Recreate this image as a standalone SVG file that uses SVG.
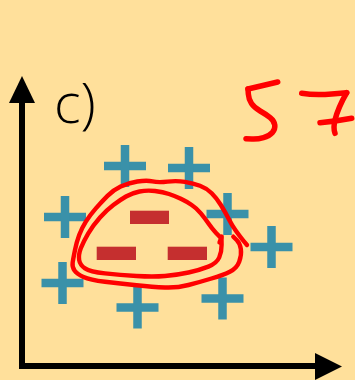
<svg xmlns="http://www.w3.org/2000/svg" xmlns:xlink="http://www.w3.org/1999/xlink" width="355" height="380" viewBox="0 0 355 380">
<style>
.bg{fill:#FFE09B}
.axis{stroke:#000;stroke-width:6;fill:none}
.head{fill:#000}
.plus{fill:#3A91A9}
.minus{fill:#C52F2F}
.loop{fill:none;stroke:#FF0000;stroke-width:4.4;stroke-linecap:round;stroke-linejoin:round}
.digit{fill:none;stroke:#FF0000;stroke-width:5.5;stroke-linecap:round;stroke-linejoin:round}
.lbl{font-family:"Open Sans","DejaVu Sans",sans-serif;font-weight:350;font-size:56px;fill:#000}
</style>
<defs>
<g id="plus"><rect x="-21" y="-4.25" width="42" height="8.5"/><rect x="-4.25" y="-21" width="8.5" height="42"/></g>
</defs>
<rect class="bg" x="0" y="0" width="355" height="380"/>
<g id="axes">
<path class="axis" d="M22,100 V366 H318"/>
<polygon class="head" points="22,76 9,103 35,103"/>
<polygon class="head" points="342,366.5 315,353 315,380"/>
</g>
<g id="label"><text class="lbl" x="54" y="123">c)</text></g>
<g id="pluses" class="plus">
<use xlink:href="#plus" x="125" y="166"/>
<use xlink:href="#plus" x="189" y="168"/>
<use xlink:href="#plus" x="65" y="217"/>
<use xlink:href="#plus" x="227.5" y="214"/>
<use xlink:href="#plus" x="271.5" y="247"/>
<use xlink:href="#plus" x="62.5" y="283"/>
<use xlink:href="#plus" x="137.5" y="307.5"/>
<use xlink:href="#plus" x="222.5" y="298.5"/>
</g>
<g id="minuses" class="minus">
<rect x="130" y="210.7" width="39" height="13.3"/>
<rect x="96.7" y="246.7" width="39.3" height="13.3"/>
<rect x="167.7" y="246.7" width="39.3" height="13.3"/>
</g>
<g id="loops">
<path class="loop" d="M247,245 L243.5,240.85 Q240,236.7 235.85,230.85 Q231.7,225 228.35,218.35 Q225,211.7 220.85,205 Q216.7,198.3 211.7,193.3 Q206.7,188.3 200,185.8 Q193.3,183.3 185,181.9 Q176.7,180.5 167.5,181.6 Q158.3,182.7 152.5,181.35 Q146.7,180 137.35,181.5 Q128,183 120.65,186.5 Q113.3,190 107.5,195.85 Q101.7,201.7 95.85,208.35 Q90,215 85.85,221.65 Q81.7,228.3 79.2,235 Q76.7,241.7 75,250 Q73.3,258.3 72.65,262.65 Q72,267 74.5,270.5 Q77,274 83.5,277 Q90,280 105,281.75 Q120,283.5 136.5,285.25 Q153,287 165,287.5 Q177,288 188.5,285 Q200,282 211.5,278.5 Q223,275 229.85,271.65 Q236.7,268.3 239.2,261.65 Q241.7,255 240.85,249.15 Q240,243.3 236.65,240 L233.3,236.7"/>
<path class="loop" d="M220,237 L215.85,232.65 Q211.7,228.3 208.35,223.3 Q205,218.3 200.85,213.3 Q196.7,208.3 191.7,205 Q186.7,201.7 180.85,198.85 Q175,196 169,194 Q163,192 155,191 Q147,190 139.5,191.5 Q132,193 126,196.5 Q120,200 113.35,205 Q106.7,210 100,217.5 Q93.3,225 88.3,233.35 Q83.3,241.7 80.8,248.35 Q78.3,255 79.15,260 Q80,265 85,268.35 Q90,271.7 105,273.35 Q120,275 136.5,276 Q153,277 165,276 Q177,275 188.5,272.5 Q200,270 208.35,266.65 Q216.7,263.3 219.2,257.5 Q221.7,251.7 221.6,244.85 L221.5,238"/>
<path class="loop" d="M221.7,236.5 L219.5,242.5"/>
</g>
<g id="number">
<path class="digit" d="M277.7,82 L248,89"/>
<path class="digit" d="M248,89 L248.35,94.15 Q248.7,99.3 251.5,103.5 Q254.3,107.7 260.15,111 Q266,114.3 270.15,117.65 Q274.3,121 274.8,125.15 Q275.3,129.3 272.3,132.65 Q269.3,136 263.5,137.65 Q257.7,139.3 251.85,139 L246,138.7"/>
<path class="digit" d="M301.7,93.3 Q315,95.5 331.7,94 L346.7,92.7"/>
<path class="digit" d="M346.7,92.7 Q338,108 335,120 Q333,128 335,133.3"/>
<path class="digit" d="M320,122.7 Q335,121.5 351.7,118.3"/>
</g>
</svg>
